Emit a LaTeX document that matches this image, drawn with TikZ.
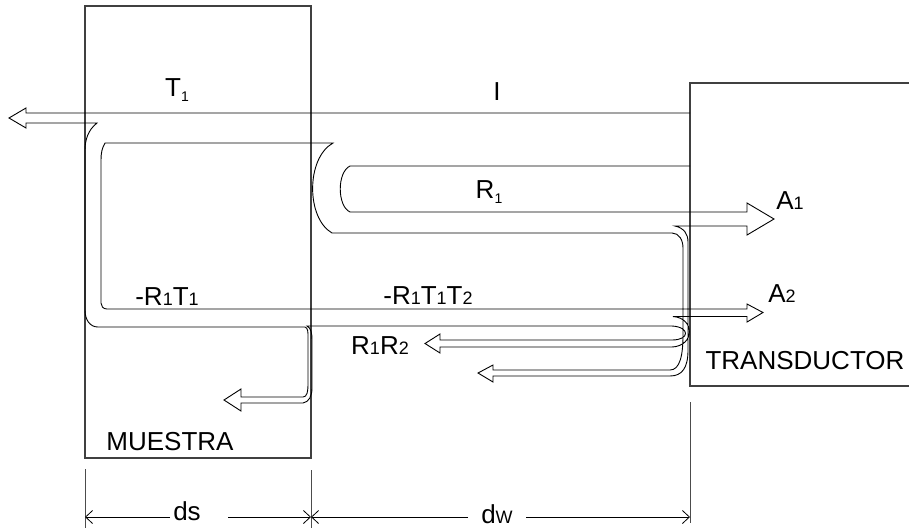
\documentclass[tikz,border=0pt]{standalone}
\usepackage{fontspec}
\setmainfont{Liberation Sans}
\usetikzlibrary{arrows.meta}
\newcommand\smd[1]{{\fontsize{18}{18}\selectfont #1}}
\newcommand\sbs[1]{\raisebox{-5pt}{\fontsize{14}{14}\selectfont #1}}
\begin{document}
\begin{tikzpicture}[x=1pt,y=-1pt,
  box/.style={line width=1.1pt,draw=black!75},
  beam/.style={line width=0.9pt,draw=black},
  lbl/.style={font=\fontsize{26}{26}\selectfont, inner sep=0pt},
  dimline/.style={line width=0.8pt, -{Straight Barb[length=7pt,width=13pt]}},
  tickline/.style={line width=0.8pt, draw=black!70}]
\useasboundingbox (0,0) rectangle (909,531);
% boxes
\draw[box] (85,6) rectangle (311,458);
\draw[box] (909,83) -- (690,83) -- (690,386) -- (909,386);
% beams
\draw[beam] (690,113) -- (26,113) -- (26,108) -- (9,118) -- (26,128) -- (26,123) -- (97,123)
  .. controls (88,130) and (85,140) .. (85,150) -- (85,310)
  .. controls (85,320) and (90,327) .. (98,327) -- (305,327)
  .. controls (308,328) and (308,332) .. (308,337) -- (308,383)
  .. controls (308,392) and (307,397) .. (303,397) -- (241,397)
  -- (241,389) -- (224,400) -- (241,411) -- (241,403) -- (303,403)
  .. controls (309,402) and (312,396) .. (312,388) -- (312,340)
  .. controls (312,333) and (311,328) .. (307,326) -- (672,326)
  .. controls (690,327) and (690,340) .. (672,340) -- (440,340)
  -- (440,334) -- (425,343.5) -- (440,353) -- (440,347) -- (672,347)
  .. controls (695,346) and (695,318) .. (673,316.5) -- (747,316.5)
  -- (747,322) -- (763,312.5) -- (747,304) -- (747,309) -- (107,309)
  .. controls (103,309) and (101,306) .. (101,303) -- (101,160)
  .. controls (101,153) and (102,148) .. (105,143) -- (333,143)
  .. controls (306,158) and (306,218) .. (332,233) -- (672,233)
  .. controls (679,233) and (683,240) .. (683,248) -- (683,335)
  .. controls (683,355) and (680,370) .. (670,370) -- (493,370)
  -- (493,365) -- (478,373) -- (493,382) -- (493,376) -- (670,376)
  .. controls (682,376) and (688,368) .. (688,350) -- (688,242)
  .. controls (688,234) and (684,228) .. (675,226) -- (747,226)
  -- (747,235) -- (774,219) -- (747,203) -- (747,212) -- (350,212)
  .. controls (337,206) and (337,172) .. (350,166) -- (690,166);
% labels
\node[lbl] (t1) at (177,90) {T\sbs{1}};
\node[lbl] (i) at (497,92) {I};
\node[lbl] (r1) at (489,192) {R\sbs{1}};
\node[lbl] (a1) at (790,201) {A\smd{1}};
\node[lbl] (a2) at (782,294) {A\smd{2}};
\node[lbl] (mr1t1) at (167,297) {-R\smd{1}T\smd{1}};
\node[lbl] (mr1t1t2) at (428,296) {-R\smd{1}T\smd{1}T\smd{2}};
\node[lbl] (r1r2) at (380,346) {R\smd{1}R\smd{2}};
\node[lbl] (trans) at (805,361) {TRANSDUCTOR};
\node[lbl] (mues) at (170,442) {MUESTRA};
\node[lbl] (ds) at (187,511) {ds};
\node[lbl] (dw) at (497,514) {d\smd{W}};
% dimension ticks
\draw[tickline] (85,469) coordinate (ta) -- (85,528);
\draw[tickline] (311,470) coordinate (tb) -- (311,528);
\draw[tickline] (690,402) coordinate (tc) -- (690,523);
\coordinate (da) at (85,517);
\coordinate (db) at (311,517);
\coordinate (dc) at (690,517);
\draw[dimline] (170,517) -- (da);
\draw[dimline] (228,517) -- (db);
\draw[dimline] (468,517) -- (db);
\draw[dimline] (526,517) -- (dc);
\end{tikzpicture}
\end{document}
